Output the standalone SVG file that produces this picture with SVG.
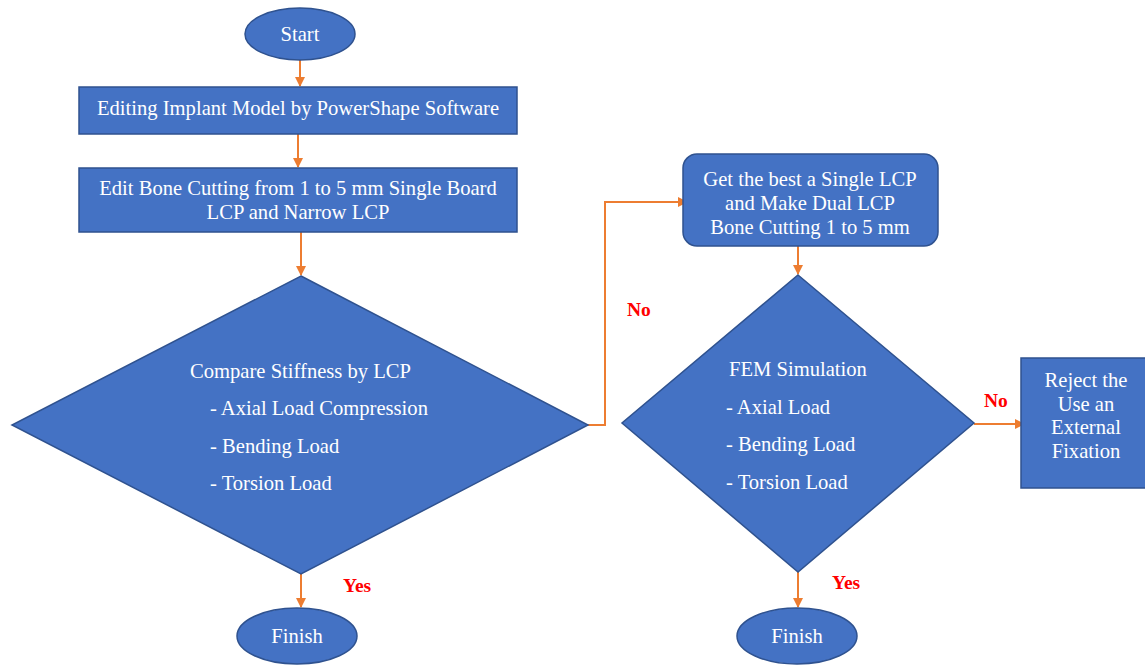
<svg xmlns="http://www.w3.org/2000/svg" width="1145" height="666" viewBox="0 0 1145 666">
<defs>
<style>
.n{fill:#4472C4;stroke:#2F528F;stroke-width:1.5}
.t{font-family:"Liberation Serif","Times New Roman",serif;font-size:20.6px;fill:#ffffff}
.c{stroke:#ED7D31;stroke-width:2;fill:none}
.lbl{font-family:"Liberation Serif","Times New Roman",serif;font-size:19.5px;font-weight:bold;fill:#FF0000}
</style>
<marker id="ah" markerWidth="10" markerHeight="10" refX="9" refY="5" orient="auto" markerUnits="userSpaceOnUse">
<path d="M0,0 L10,5 L0,10 Z" fill="#ED7D31"/>
</marker>
</defs>
<rect width="1145" height="666" fill="#ffffff"/>
<g id="connectors">
<line class="c" x1="300" y1="59" x2="300" y2="86" marker-end="url(#ah)"/>
<line class="c" x1="298" y1="134" x2="298" y2="167" marker-end="url(#ah)"/>
<line class="c" x1="301" y1="232" x2="301" y2="275" marker-end="url(#ah)"/>
<line class="c" x1="301" y1="574" x2="301" y2="607" marker-end="url(#ah)"/>
<polyline class="c" points="588,425 605,425 605,202 687,202" marker-end="url(#ah)"/>
<line class="c" x1="798" y1="246" x2="798" y2="274" marker-end="url(#ah)"/>
<line class="c" x1="974" y1="424" x2="1024" y2="424" marker-end="url(#ah)"/>
<line class="c" x1="798" y1="572" x2="798" y2="607" marker-end="url(#ah)"/>
<text class="lbl" x="627" y="316">No</text>
<text class="lbl" x="343" y="592">Yes</text>
<text class="lbl" x="984" y="407">No</text>
<text class="lbl" x="832" y="589">Yes</text>
</g>
<g id="start">
<ellipse class="n" cx="300" cy="34" rx="55" ry="26"/>
<text class="t" x="300" y="41" text-anchor="middle">Start</text>
</g>
<g id="edit-implant">
<rect class="n" x="79" y="87" width="438" height="47"/>
<text class="t" x="298" y="115" text-anchor="middle">Editing Implant Model by PowerShape Software</text>
</g>
<g id="edit-bone">
<rect class="n" x="79" y="168" width="438" height="64"/>
<text class="t" x="298" y="195" text-anchor="middle">Edit Bone Cutting from 1 to 5 mm Single Board</text>
<text class="t" x="298" y="219" text-anchor="middle">LCP and Narrow LCP</text>
</g>
<g id="compare">
<polygon class="n" points="301,276 588,425 301,574 12,425"/>
<text class="t" x="190" y="378">Compare Stiffness by LCP</text>
<text class="t" x="210" y="415">- Axial Load Compression</text>
<text class="t" x="210" y="453">- Bending Load</text>
<text class="t" x="210" y="490">- Torsion Load</text>
</g>
<g id="finish1">
<ellipse class="n" cx="297" cy="636" rx="60" ry="28"/>
<text class="t" x="297" y="643" text-anchor="middle">Finish</text>
</g>
<g id="best-single">
<rect class="n" x="683" y="154" width="255" height="92" rx="14"/>
<text class="t" x="810" y="186" text-anchor="middle">Get the best a Single LCP</text>
<text class="t" x="810" y="210" text-anchor="middle">and Make Dual LCP</text>
<text class="t" x="810" y="234" text-anchor="middle">Bone Cutting 1 to 5 mm</text>
</g>
<g id="fem">
<polygon class="n" points="798,275 974,423 798,572 622,423"/>
<text class="t" x="729" y="376">FEM Simulation</text>
<text class="t" x="726" y="414">- Axial Load</text>
<text class="t" x="726" y="451">- Bending Load</text>
<text class="t" x="726" y="489">- Torsion Load</text>
</g>
<g id="reject">
<rect class="n" x="1021" y="358" width="125" height="130"/>
<text class="t" x="1086" y="387" text-anchor="middle">Reject the</text>
<text class="t" x="1086" y="411" text-anchor="middle">Use an</text>
<text class="t" x="1086" y="434" text-anchor="middle">External</text>
<text class="t" x="1086" y="458" text-anchor="middle">Fixation</text>
</g>
<g id="finish2">
<ellipse class="n" cx="797" cy="636" rx="60" ry="28"/>
<text class="t" x="797" y="643" text-anchor="middle">Finish</text>
</g>
</svg>
